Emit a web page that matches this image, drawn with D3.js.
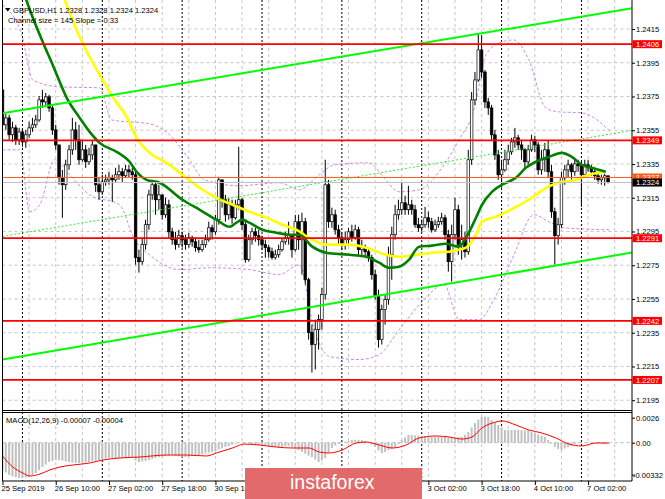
<!DOCTYPE html>
<html><head><meta charset="utf-8">
<script src="https://cdn.jsdelivr.net/npm/d3@7"></script>
<style>
html,body{margin:0;padding:0;background:#fff;}
svg{display:block;}
text{font-family:"Liberation Sans",Arial,sans-serif;}
</style></head><body>
<svg id="c" width="665" height="499"></svg>
<script>
// ---------- DATA ----------
const symbolTitle = "GBPUSD,H1  1.2328 1.2328 1.2324 1.2324";
const channelTitle = "Channel size = 145 Slope = 0.33";
const macdTitle = "MACD(12,26,9) -0.00007 -0.00004";
const firstOpen = 1.23789;
const closes = [1.23582,1.23623,1.23523,1.23564,1.23493,1.23540,1.23481,1.23523,1.23564,1.23582,
1.23611,1.23730,1.23718,1.23748,1.23682,1.23552,1.23463,1.23268,1.23227,1.23345,
1.23434,1.23552,1.23493,1.23375,1.23434,1.23363,1.23404,1.23463,1.23227,1.23185,
1.23244,1.23256,1.23268,1.23256,1.23286,1.23304,1.23280,1.23315,1.23304,1.23286,
1.22795,1.22771,1.22872,1.22990,1.23167,1.23227,1.23138,1.23167,1.23049,1.23108,
1.22948,1.22901,1.22872,1.22925,1.22901,1.22872,1.22913,1.22889,1.22854,1.22842,
1.22872,1.22901,1.22972,1.22948,1.23020,1.23256,1.23138,1.23049,1.23108,1.23031,
1.23108,1.23138,1.22990,1.22783,1.22901,1.22948,1.22925,1.22901,1.22872,1.22854,
1.22830,1.22795,1.22812,1.22842,1.22889,1.22913,1.22931,1.22842,1.23008,1.22901,
1.23008,1.22664,1.22351,1.22280,1.22368,1.22428,1.22576,1.23227,1.23008,1.23049,
1.22960,1.22913,1.22866,1.22901,1.22948,1.22913,1.22960,1.22842,1.22854,1.22830,
1.22795,1.22694,1.22570,1.22309,1.22487,1.22546,1.22812,1.22931,1.23049,1.23079,
1.23120,1.23079,1.23108,1.23079,1.22990,1.22972,1.22990,1.23031,1.23008,1.22960,
1.22990,1.23008,1.23031,1.22931,1.22771,1.22931,1.23079,1.22872,1.22901,1.22830,
1.23375,1.23730,1.23848,1.24026,1.23895,1.23718,1.23682,1.23523,1.23404,1.23286,
1.23315,1.23375,1.23422,1.23481,1.23505,1.23463,1.23434,1.23363,1.23434,1.23493,
1.23463,1.23315,1.23375,1.23434,1.23304,1.23067,1.22925,1.22990,1.23268,1.23315,
1.23345,1.23304,1.23351,1.23339,1.23286,1.23345,1.23327,1.23304,1.23280,1.23256,
1.23268,1.23280,1.23240];
const highs = [1.23807,1.23647,1.23641,1.23600,1.23582,1.23564,1.23552,1.23552,1.23600,1.23623,
1.23641,1.23753,1.23789,1.23771,1.23760,1.23700,1.23582,1.23463,1.23315,1.23375,
1.23463,1.23623,1.23600,1.23582,1.23493,1.23463,1.23446,1.23493,1.23463,1.23268,
1.23286,1.23286,1.23304,1.23286,1.23327,1.23345,1.23327,1.23345,1.23345,1.23327,
1.23304,1.22842,1.22913,1.23020,1.23197,1.23256,1.23239,1.23227,1.23167,1.23150,
1.23138,1.22972,1.22948,1.22960,1.22948,1.22931,1.22943,1.22925,1.22913,1.22901,
1.22901,1.22931,1.23008,1.22990,1.23049,1.23274,1.23244,1.23167,1.23150,1.23138,
1.23138,1.23452,1.23150,1.23008,1.22931,1.22972,1.22972,1.22960,1.22925,1.22901,
1.22872,1.22854,1.22842,1.22872,1.22913,1.22948,1.23008,1.22901,1.23049,1.23049,
1.23061,1.23031,1.22676,1.22398,1.22428,1.22457,1.22617,1.23375,1.23256,1.23091,
1.23079,1.22990,1.22943,1.22948,1.22972,1.22990,1.22990,1.22978,1.22901,1.22872,
1.22854,1.22812,1.22724,1.22605,1.22516,1.22576,1.22860,1.22978,1.23108,1.23138,
1.23239,1.23162,1.23221,1.23138,1.23108,1.23031,1.23020,1.23096,1.23067,1.23031,
1.23020,1.23037,1.23061,1.23049,1.22960,1.22990,1.23150,1.23108,1.22990,1.22948,
1.23434,1.23777,1.23895,1.24126,1.24114,1.23907,1.23742,1.23700,1.23552,1.23434,
1.23375,1.23434,1.23463,1.23505,1.23564,1.23523,1.23493,1.23446,1.23463,1.23523,
1.23517,1.23481,1.23434,1.23475,1.23493,1.23345,1.23091,1.23031,1.23304,1.23345,
1.23375,1.23357,1.23386,1.23375,1.23363,1.23375,1.23375,1.23345,1.23315,1.23292,
1.23286,1.23292,1.23280];
const lows = [1.23552,1.23552,1.23493,1.23481,1.23463,1.23463,1.23452,1.23446,1.23505,1.23540,
1.23564,1.23600,1.23682,1.23700,1.23659,1.23523,1.23434,1.23227,1.23031,1.23197,
1.23315,1.23404,1.23434,1.23345,1.23363,1.23327,1.23345,1.23375,1.23185,1.23138,
1.23167,1.23221,1.23227,1.23126,1.23244,1.23256,1.23244,1.23268,1.23268,1.23256,
1.22753,1.22706,1.22753,1.22842,1.22960,1.23138,1.23049,1.23079,1.23020,1.23031,
1.22913,1.22872,1.22842,1.22854,1.22854,1.22842,1.22854,1.22860,1.22830,1.22824,
1.22830,1.22854,1.22889,1.22901,1.22931,1.22990,1.23091,1.23008,1.23020,1.22996,
1.23020,1.23079,1.22960,1.22765,1.22771,1.22872,1.22889,1.22866,1.22842,1.22795,
1.22795,1.22783,1.22783,1.22795,1.22830,1.22872,1.22872,1.22795,1.22830,1.22842,
1.22694,1.22635,1.22309,1.22114,1.22132,1.22250,1.22368,1.22546,1.22972,1.22972,
1.22931,1.22872,1.22842,1.22842,1.22872,1.22889,1.22901,1.22812,1.22800,1.22800,
1.22771,1.22664,1.22546,1.22262,1.22280,1.22398,1.22516,1.22664,1.22901,1.23020,
1.23049,1.23049,1.23049,1.23049,1.22972,1.22948,1.22948,1.22972,1.22972,1.22943,
1.22948,1.22972,1.22990,1.22901,1.22712,1.22653,1.22901,1.22812,1.22783,1.22795,
1.22812,1.23345,1.23700,1.23836,1.23860,1.23682,1.23641,1.23493,1.23375,1.23256,
1.23209,1.23304,1.23345,1.23404,1.23446,1.23434,1.23375,1.23327,1.23345,1.23422,
1.23422,1.23286,1.23286,1.23304,1.23268,1.23031,1.22753,1.22872,1.22972,1.23227,
1.23268,1.23256,1.23280,1.23304,1.23096,1.23268,1.23304,1.23280,1.23256,1.23233,
1.23227,1.23221,1.23235];

const priceTicks = [1.2415,1.2395,1.2375,1.2355,1.2335,1.2315,1.2295,1.2275,1.2255,1.2235,1.2215,1.2195];
const levels = [1.2406,1.2349,1.2291,1.2242,1.2207];
const bidPrice = 1.2324, askPrice = 1.2327;
const timeLabels = ["25 Sep 2019","26 Sep 10:00","27 Sep 02:00","27 Sep 18:00","30 Sep 10:00","1 Oct 02:00",
  "1 Oct 18:00","2 Oct 10:00","3 Oct 02:00","3 Oct 18:00","4 Oct 10:00","7 Oct 02:00"];
const timeLabelBars = [0,16,32,48,64,80,96,112,128,144,160,176];
const daySeparatorBars = [6,30,54,78,102,126,150,174];
const gridBars = [8,16,24,32,40,48,56,64,72,80,88,96,104,112,120,128,136,144,152,160,168,176,184];

// channel lines [bar, price]
const channelUpper = [[0,1.23650],[189.2,1.24273]];
const channelMid   = [[0,1.22921],[189.2,1.23549]];
const channelLower = [[0,1.22191],[189.2,1.22825]];

// moving averages [bar, price]
const maGreen = [[7.0,1.24330],[8.8,1.24233],[12.1,1.24073],[15.1,1.23937],[19.3,1.23742],[23.2,1.23623],
 [26.2,1.23540],[29.2,1.23475],[34.3,1.23422],[38.2,1.23363],[40.3,1.23304],[43.3,1.23256],[47.2,1.23239],
 [54.1,1.23138],[59.2,1.23079],[64.3,1.23020],[68.2,1.22978],[70.3,1.23002],[72.1,1.23020],[74.2,1.23002],
 [78.1,1.22960],[82.3,1.22943],[86.2,1.22931],[89.2,1.22931],[93.1,1.22860],[97.3,1.22824],[104.2,1.22812],
 [109.3,1.22800],[113.2,1.22765],[116.2,1.22735],[119.2,1.22741],[122.2,1.22783],[125.2,1.22860],[129.1,1.22866],
 [133.3,1.22877],[137.2,1.22860],[139.3,1.22913],[142.3,1.23031],[144.1,1.23108],[147.1,1.23185],[150.1,1.23227],
 [154.3,1.23268],[157.3,1.23327],[160.3,1.23363],[164.2,1.23392],[168.1,1.23416],[171.1,1.23392],[174.1,1.23345],
 [177.1,1.23327],[181.3,1.23304]];
const maYellow = [[18.7,1.24322],[23.2,1.24103],[26.2,1.23984],[30.1,1.23848],[33.1,1.23748],[37.3,1.23629],
 [40.3,1.23505],[44.2,1.23416],[49.3,1.23357],[54.1,1.23286],[59.2,1.23209],[64.3,1.23150],[69.1,1.23108],
 [74.2,1.23067],[79.3,1.23031],[84.1,1.22990],[88.3,1.22960],[93.1,1.22901],[97.3,1.22872],[104.2,1.22872],
 [109.3,1.22854],[115.3,1.22812],[119.2,1.22800],[124.3,1.22812],[129.1,1.22824],[134.2,1.22830],[137.2,1.22842],
 [139.3,1.22854],[142.3,1.22931],[144.1,1.23008],[148.3,1.23037],[154.3,1.23096],[159.1,1.23150],[163.3,1.23209],
 [167.2,1.23239],[172.3,1.23256],[176.2,1.23286],[181.3,1.23304]];
// envelope bands [bar, price]
const bandUpper = [[0,1.24292],[5.8,1.24114],[9.1,1.23848],[17.2,1.23807],[29.2,1.23801],[32.8,1.23611],
 [44.2,1.23588],[50.2,1.23523],[56.2,1.23375],[60.7,1.23256],[71.2,1.23221],[83.2,1.23239],[89.2,1.23197],
 [95.2,1.23286],[99.7,1.23345],[110.2,1.23357],[114.7,1.23268],[119.2,1.23185],[125.2,1.23197],[132.7,1.23345],
 [137.2,1.23493],[141.7,1.23671],[145.3,1.23996],[149.2,1.24067],[153.7,1.24085],[158.2,1.23967],[163.3,1.23682],
 [167.2,1.23659],[174.1,1.23653],[182.8,1.23540]];
const bandLower = [[0,1.23434],[5.2,1.23434],[8.2,1.23067],[11.2,1.23108],[15.7,1.23375],[20.2,1.23286],
 [26.2,1.23167],[35.2,1.23108],[39.7,1.22901],[44.2,1.22812],[53.2,1.22724],[62.2,1.22735],[74.2,1.22724],
 [83.2,1.22694],[89.2,1.22753],[93.7,1.22368],[98.2,1.22209],[107.2,1.22191],[113.2,1.22220],[119.2,1.22368],
 [126.7,1.22546],[132.7,1.22635],[137.2,1.22428],[143.2,1.22428],[147.7,1.22546],[153.7,1.22812],[159.7,1.23049],
 [164.2,1.23008],[168.7,1.22972],[182.8,1.22960]];

// MACD histogram (one value per bar) and signal line [bar, value]
const macdHist = [-0.00284,-0.00310,-0.00336,-0.00350,-0.00360,-0.00367,-0.00368,-0.00362,-0.00357,-0.00338,
-0.00315,-0.00285,-0.00253,-0.00228,-0.00201,-0.00190,-0.00182,-0.00180,-0.00186,-0.00195,
-0.00201,-0.00207,-0.00210,-0.00211,-0.00207,-0.00204,-0.00201,-0.00194,-0.00188,-0.00180,
-0.00172,-0.00165,-0.00159,-0.00160,-0.00158,-0.00159,-0.00155,-0.00152,-0.00150,-0.00149,
-0.00185,-0.00201,-0.00195,-0.00188,-0.00180,-0.00170,-0.00160,-0.00149,-0.00145,-0.00138,
-0.00132,-0.00128,-0.00135,-0.00142,-0.00146,-0.00149,-0.00143,-0.00137,-0.00132,-0.00128,
-0.00120,-0.00112,-0.00104,-0.00097,-0.00085,-0.00070,-0.00058,-0.00045,-0.00035,-0.00022,
-0.00012,-0.00003,0.00001,0.00001,-0.00008,-0.00014,-0.00020,-0.00026,-0.00030,-0.00034,
-0.00038,-0.00042,-0.00044,-0.00045,-0.00040,-0.00036,-0.00034,-0.00048,-0.00062,-0.00076,
-0.00095,-0.00115,-0.00135,-0.00149,-0.00175,-0.00201,-0.00185,-0.00159,-0.00105,-0.00055,
-0.00030,-0.00015,-0.00003,0.00010,0.00020,0.00028,0.00030,0.00030,0.00028,0.00018,
0.00007,-0.00020,-0.00045,-0.00080,-0.00107,-0.00095,-0.00076,-0.00065,-0.00055,-0.00015,
0.00028,0.00055,0.00080,0.00080,0.00076,0.00073,0.00070,0.00068,0.00066,0.00062,
0.00059,0.00060,0.00060,0.00059,0.00052,0.00055,0.00058,0.00059,0.00059,0.00080,
0.00111,0.00160,0.00205,0.00240,0.00267,0.00270,0.00267,0.00236,0.00210,0.00184,
0.00160,0.00132,0.00130,0.00132,0.00134,0.00132,0.00130,0.00128,0.00132,0.00115,
0.00101,0.00085,0.00072,0.00059,0.00030,-0.00010,-0.00045,-0.00065,-0.00076,-0.00060,
-0.00045,-0.00030,-0.00015,-0.00003,-0.00008,0.00002,0.00007,0.00004,0.00002,-0.00002,
-0.00004,-0.00006,-0.00007];
const macdSignal = [[0,-0.00138],[3.1,-0.00253],[6.1,-0.00315],[8.2,-0.00346],[11.2,-0.00326],[14.2,-0.00284],
 [17.2,-0.00253],[21.1,-0.00232],[26.2,-0.00211],[30.1,-0.00180],[35.2,-0.00159],[41.2,-0.00149],[49.3,-0.00128],
 [55.3,-0.00128],[61.3,-0.00138],[64.3,-0.00107],[69.1,-0.00055],[72.7,-0.00014],[77.2,-0.00024],[82.3,-0.00045],
 [87.1,-0.00055],[92.2,-0.00055],[95.2,-0.00097],[98.2,-0.00107],[102.1,-0.00076],[106.3,-0.00003],[109.3,0.00007],
 [113.2,-0.00024],[117.1,-0.00055],[121.3,-0.00024],[125.2,0.00049],[130.3,0.00070],[134.2,0.00059],[138.1,0.00038],
 [141.1,0.00059],[144.1,0.00153],[148.3,0.00215],[150.1,0.00226],[154.3,0.00184],[158.2,0.00132],[162.1,0.00101],
 [166.3,0.00049],[170.2,-0.00014],[174.1,-0.00034],[178.3,-0.00003],[182.2,-0.00004]];
const macdTicks = [0.0026, 0, -0.00332];

// ---------- DRAW ----------
const svg = d3.select("#c");
const L = 2.5, R = 632, mainB = 410.5, macdT = 412.5, macdB = 481;
const wmX = 245, wmW = 177;
const x = d3.scaleLinear().domain([0, 189.2]).range([L, R]);
const y = d3.scaleLinear().domain([1.21892, 1.24304]).range([410, 3]);
const m = d3.scaleLinear().domain([-0.00398, 0.00319]).range([481, 412]);

svg.append("rect").attr("width", 665).attr("height", 499).attr("fill", "#fff");
const defs = svg.append("defs");
defs.append("clipPath").attr("id", "cm").append("rect").attr("x", L).attr("y", 0).attr("width", R - L).attr("height", mainB);
defs.append("clipPath").attr("id", "cd").append("rect").attr("x", L).attr("y", macdT).attr("width", R - L).attr("height", macdB - macdT);

const main = svg.append("g").attr("clip-path", "url(#cm)");
const macd = svg.append("g").attr("clip-path", "url(#cd)");

// grid
main.selectAll("line.hg").data(priceTicks).join("line")
  .attr("x1", L).attr("x2", R).attr("y1", d => y(d)).attr("y2", d => y(d))
  .attr("stroke", "#c6c6c6").attr("stroke-width", 1).attr("stroke-dasharray", "3,3");
[main, macd].forEach(g => {
  g.selectAll("line.vg").data(gridBars).join("line")
    .attr("x1", d => x(d)).attr("x2", d => x(d)).attr("y1", 0).attr("y2", 499)
    .attr("stroke", "#c6c6c6").attr("stroke-width", 1).attr("stroke-dasharray", "3,3");
  g.selectAll("line.ds").data(daySeparatorBars).join("line")
    .attr("x1", d => x(d)).attr("x2", d => x(d)).attr("y1", 0).attr("y2", 499)
    .attr("stroke", "#000").attr("stroke-width", 1).attr("stroke-dasharray", "2,2");
});

// bands
const lp = d3.line().x(d => x(d[0])).y(d => y(d[1])).curve(d3.curveMonotoneX);
[bandUpper, bandLower].forEach(b => main.append("path").attr("d", lp(b)).attr("fill", "none")
  .attr("stroke", "#c98be8").attr("stroke-width", 1).attr("stroke-dasharray", "3,2"));

// candles
const bars = closes.map((c, i) => ({ i, o: i ? closes[i - 1] : firstOpen, c, h: highs[i], l: lows[i] }));
main.selectAll("line.wk").data(bars).join("line")
  .attr("x1", d => x(d.i)).attr("x2", d => x(d.i))
  .attr("y1", d => y(Math.max(d.h, d.o, d.c))).attr("y2", d => y(Math.min(d.l, d.o, d.c)))
  .attr("stroke", "#000").attr("stroke-width", 1);
main.selectAll("rect.bd").data(bars).join("rect")
  .attr("x", d => x(d.i) - 1.3).attr("width", 2.6)
  .attr("y", d => y(Math.max(d.o, d.c)))
  .attr("height", d => Math.max(0.8, Math.abs(y(d.o) - y(d.c))))
  .attr("fill", d => d.c >= d.o ? "#fff" : "#000")
  .attr("stroke", "#000").attr("stroke-width", 0.7);

// MAs
main.append("path").attr("d", lp(maYellow)).attr("fill", "none").attr("stroke", "#ffff00").attr("stroke-width", 2.6);
main.append("path").attr("d", lp(maGreen)).attr("fill", "none").attr("stroke", "#008000").attr("stroke-width", 2.6);

// channel
const ll = d3.line().x(d => x(d[0])).y(d => y(d[1]));
main.append("path").attr("d", ll(channelUpper)).attr("stroke", "#00ff00").attr("stroke-width", 2).attr("fill", "none");
main.append("path").attr("d", ll(channelLower)).attr("stroke", "#00ff00").attr("stroke-width", 2).attr("fill", "none");
main.append("path").attr("d", ll(channelMid)).attr("stroke", "#33ee33").attr("stroke-width", 1).attr("stroke-dasharray", "2,2").attr("fill", "none");

// horizontal levels
main.selectAll("line.lv").data(levels).join("line")
  .attr("x1", L).attr("x2", R).attr("y1", d => y(d)).attr("y2", d => y(d))
  .attr("stroke", "#ff0000").attr("stroke-width", 1.8);
main.append("line").attr("x1", L).attr("x2", R).attr("y1", y(askPrice)).attr("y2", y(askPrice))
  .attr("stroke", "#ff5a1e").attr("stroke-width", 1);
main.append("line").attr("x1", L).attr("x2", R).attr("y1", y(bidPrice)).attr("y2", y(bidPrice))
  .attr("stroke", "#c0c0c0").attr("stroke-width", 1);

// MACD
macd.append("line").attr("x1", L).attr("x2", R).attr("y1", m(0)).attr("y2", m(0))
  .attr("stroke", "#b8b8b8").attr("stroke-dasharray", "3,3");
macd.selectAll("rect.hb").data(macdHist).join("rect")
  .attr("x", (d, i) => x(i) - 1).attr("width", 2)
  .attr("y", d => m(Math.max(0, d))).attr("height", d => Math.abs(m(d) - m(0)))
  .attr("fill", "#c0c0c0");
macd.append("path").attr("d", d3.line().x(d => x(d[0])).y(d => m(d[1])).curve(d3.curveMonotoneX)(macdSignal))
  .attr("fill", "none").attr("stroke", "#ff0000").attr("stroke-width", 1);

// frames
const fr = svg.append("g").attr("stroke", "#000").attr("stroke-width", 1);
fr.append("line").attr("x1", L).attr("x2", L).attr("y1", 0).attr("y2", macdB);
fr.append("line").attr("x1", R).attr("x2", R).attr("y1", 0).attr("y2", macdB);
fr.append("line").attr("x1", L).attr("x2", R).attr("y1", mainB).attr("y2", mainB);
fr.append("line").attr("x1", L).attr("x2", R).attr("y1", macdT).attr("y2", macdT);
fr.append("line").attr("x1", L).attr("x2", R).attr("y1", macdB).attr("y2", macdB);

// axes
const fs = "7.6px";
const ay = svg.append("g").attr("transform", `translate(${R},0)`)
  .call(d3.axisRight(y).tickValues(priceTicks).tickSize(3).tickPadding(1).tickFormat(d3.format(".4f")));
ay.select(".domain").remove();
ay.selectAll("text").attr("font-size", fs).attr("fill", "#000").attr("font-family", "Liberation Sans, Arial, sans-serif");

const am = svg.append("g").attr("transform", `translate(${R},0)`)
  .call(d3.axisRight(m).tickValues(macdTicks).tickSize(3).tickPadding(1).tickFormat(d => d === 0 ? "0.00" : String(d)));
am.select(".domain").remove();
am.selectAll("text").attr("font-size", fs).attr("fill", "#000").attr("font-family", "Liberation Sans, Arial, sans-serif")
  .attr("dx", d => d < 0 ? -3 : 0);

// time axis: labels hidden under the watermark in the reference are not drawn
const visibleBars = timeLabelBars.filter(b => !(x(b) > wmX && x(b) < wmX + wmW));
const ax = svg.append("g").attr("transform", `translate(0,${macdB})`)
  .call(d3.axisBottom(x).tickValues(visibleBars).tickSize(4).tickPadding(1)
    .tickFormat(d => timeLabels[timeLabelBars.indexOf(d)]));
ax.select(".domain").remove();
ax.selectAll("text").attr("font-size", fs).attr("fill", "#000").attr("text-anchor", "start").attr("dx", -1.5)
  .attr("font-family", "Liberation Sans, Arial, sans-serif");

// price labels
function priceLabel(p, fill, txtFill, clipId) {
  const g = svg.append("g");
  g.append("rect").attr("x", R + 0.5).attr("y", y(p) - 4).attr("width", 29.5).attr("height", 8).attr("fill", fill);
  const t = g.append("text").attr("x", R + 4).attr("y", y(p) + 2.7).attr("font-size", fs).attr("fill", txtFill).text(p.toFixed(4));
  if (clipId) t.attr("clip-path", `url(#${clipId})`);
}
levels.forEach(p => priceLabel(p, "#ff0000", "#fff"));
defs.append("clipPath").attr("id", "askclip").append("rect")
  .attr("x", R).attr("y", y(askPrice) - 6).attr("width", 33).attr("height", (y(bidPrice) - 4) - (y(askPrice) - 6));
priceLabel(askPrice, "#ff5a1e", "#fff", "askclip");
priceLabel(bidPrice, "#000", "#fff");

// titles
svg.append("path").attr("d", "M5,8 L10.5,8 L7.75,11.5 Z").attr("fill", "#000");
svg.append("text").attr("x", 13).attr("y", 12.5).attr("font-size", fs).attr("fill", "#000").text(symbolTitle);
svg.append("text").attr("x", 8).attr("y", 23).attr("font-size", fs).attr("fill", "#000").text(channelTitle);
svg.append("text").attr("x", 6).attr("y", 423).attr("font-size", fs).attr("fill", "#000").text(macdTitle);

// watermark
svg.append("rect").attr("x", wmX).attr("y", 468).attr("width", wmW).attr("height", 31).attr("fill", "#e26a6a");
svg.append("text").attr("x", 290).attr("y", 489).attr("font-size", "19.5px").attr("fill", "#fff").text("instaforex");
</script>
</body></html>
